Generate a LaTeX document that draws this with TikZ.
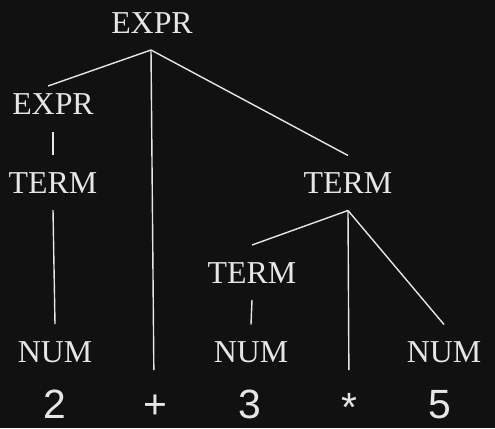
\documentclass[tikz,border=0pt]{standalone}
\usepackage{fontspec}
\setmainfont{Liberation Serif}
\newfontfamily\digitfont{Liberation Sans}
\definecolor{bgdark}{HTML}{111111}
\definecolor{chalk}{HTML}{E6E6E6}

\begin{document}
\begin{tikzpicture}[x=1bp,y=-1bp,
  cat/.style={text=chalk,font=\fontsize{32}{36}\selectfont,inner sep=0pt,outer sep=0pt,text height=21bp,text depth=0pt,minimum height=55bp},
  tok/.style={text=chalk,font=\digitfont\fontsize{41}{46}\selectfont,inner sep=0pt,outer sep=0pt,text height=30bp,text depth=0pt},
  branch/.style={chalk,line width=1.4bp}]
\useasboundingbox (0,0) rectangle (495,428);
\fill[bgdark] (0,0) rectangle (495,428);
\node[cat] (root) at (152,22.5) {EXPR};
\node[cat] (lexpr) at (53,104) {EXPR};
\node[cat] (lterm) at (53,182.5) {TERM};
\node[cat] (lnum) at (55,351.5) {NUM};
\node[cat] (rterm) at (348,183) {TERM};
\node[cat] (mterm) at (252,272.5) {TERM};
\node[cat] (mnum) at (251,352) {NUM};
\node[cat] (rnum) at (444,352) {NUM};
\node[tok] (two) at (55,403) {2};
\node[tok] (plus) at (155,403) {+};
\node[tok] (three) at (250,403) {3};
\node[tok] (star) at (349,406) {*};
\node[tok] (five) at (440,403) {5};
\draw[branch] ([xshift=-1]root.south) -- ([shift={(-5,9.5)}]lexpr.north);
\draw[branch,shorten >=18bp] ([xshift=-1]root.south) -- ([xshift=-1]plus.north);
\draw[branch] ([xshift=-1]root.south) -- (rterm.north);
\draw[branch] (lexpr.south) -- (lterm.north);
\draw[branch] (lterm.south) -- (lnum.north);
\draw[branch] (rterm.south) -- (mterm.north);
\draw[branch,shorten >=21bp] (rterm.south) -- (star.north);
\draw[branch] (rterm.south) -- (rnum.north);
\draw[branch] (mterm.south) -- (mnum.north);
\end{tikzpicture}
\end{document}
